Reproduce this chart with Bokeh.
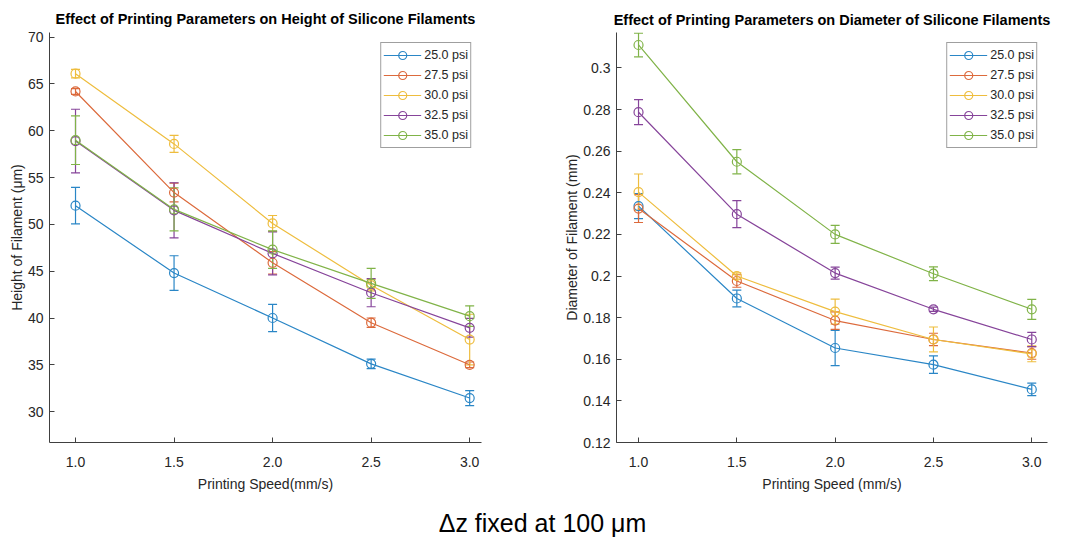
from bokeh.plotting import figure
from bokeh.models import ColumnDataSource, Whisker, TeeHead, Legend, LegendItem, FixedTicker, Label, Range1d
from bokeh.layouts import column, row
from bokeh.embed import file_html
from bokeh.resources import INLINE

speeds = [1.0, 1.5, 2.0, 2.5, 3.0]
speed_tick_labels = ["1.0", "1.5", "2.0", "2.5", "3.0"]
pressure_labels = ["25.0 psi", "27.5 psi", "30.0 psi", "32.5 psi", "35.0 psi"]
colors = ["#2a86c6", "#dc6a3c", "#eebd3e", "#86449a", "#80b348"]

# Height of filament (um)
height_25 = [52.0, 44.8, 40.0, 35.1, 31.45]
height_25_err = [1.95, 1.85, 1.45, 0.5, 0.8]
height_275 = [64.2, 53.4, 45.9, 39.5, 35.0]
height_275_err = [0.3, 1.0, 1.2, 0.5, 0.3]
height_30 = [66.1, 58.6, 50.1, 43.5, 37.7]
height_30_err = [0.45, 0.9, 0.85, 0.6, 2.7]
height_325 = [58.9, 51.5, 46.9, 42.7, 38.95]
height_325_err = [3.4, 2.95, 2.3, 1.5, 1.0]
height_35 = [59.0, 51.6, 47.3, 43.7, 40.2]
height_35_err = [2.6, 2.3, 2.0, 1.6, 1.1]

# Diameter of filament (mm)
diam_25 = [0.2336, 0.1892, 0.1654, 0.1574, 0.1455]
diam_25_err = [0.006, 0.004, 0.0085, 0.0042, 0.003]
diam_275 = [0.2324, 0.1976, 0.1786, 0.1695, 0.163]
diam_275_err = [0.0067, 0.003, 0.0042, 0.003, 0.003]
diam_30 = [0.2403, 0.2000, 0.1829, 0.1695, 0.1626]
diam_30_err = [0.0087, 0.0015, 0.006, 0.006, 0.0038]
diam_325 = [0.2787, 0.2297, 0.2014, 0.1840, 0.1695]
diam_325_err = [0.006, 0.0065, 0.0029, 0.001, 0.0034]
diam_35 = [0.3110, 0.2549, 0.2200, 0.2011, 0.1840]
diam_35_err = [0.0057, 0.0058, 0.0043, 0.0033, 0.0048]

height_y_ticks = [30, 35, 40, 45, 50, 55, 60, 65, 70]
diam_y_ticks = [0.12, 0.14, 0.16, 0.18, 0.2, 0.22, 0.24, 0.26, 0.28, 0.3]
diam_y_tick_labels = ["0.12", "0.14", "0.16", "0.18", "0.2", "0.22", "0.24", "0.26", "0.28", "0.3"]

FONT = "Liberation Sans"
AXC = "#404040"
TXC = "#262626"


def make_plot(title, xlabel, ylabel, series, errors, xr, yr, yticks, ytick_labels,
              width, border_left, border_right, border_top, border_bottom):
    p = figure(width=width, height=506, x_range=Range1d(*xr), y_range=Range1d(*yr),
               output_backend="svg", toolbar_location=None,
               min_border_left=border_left, min_border_right=border_right,
               min_border_top=border_top, min_border_bottom=border_bottom)
    p.outline_line_color = None
    p.grid.visible = False
    p.title.text = title
    p.title.align = "center"
    p.title.text_font = FONT
    p.title.text_font_size = "14.5px"
    p.title.text_font_style = "bold"
    p.title.text_color = "#000000"
    p.title.standoff = 12 - (32 - border_top)

    p.xaxis.ticker = FixedTicker(ticks=speeds)
    p.xaxis.major_label_overrides = {s: l for s, l in zip(speeds, speed_tick_labels)}
    p.yaxis.ticker = FixedTicker(ticks=yticks)
    if ytick_labels is not None:
        p.yaxis.major_label_overrides = {t: l for t, l in zip(yticks, ytick_labels)}
    p.xaxis.axis_label = xlabel
    p.yaxis.axis_label = ylabel
    for ax in (p.xaxis[0], p.yaxis[0]):
        ax.axis_line_color = AXC
        ax.major_tick_line_color = AXC
        ax.major_tick_in = 5
        ax.major_tick_out = 0
        ax.minor_tick_line_color = None
        ax.major_label_text_font = FONT
        ax.major_label_text_font_size = "14px"
        ax.major_label_text_color = TXC
        ax.axis_label_text_font = FONT
        ax.axis_label_text_font_size = "14px"
        ax.axis_label_text_font_style = "normal"
        ax.axis_label_text_color = TXC
    p.xaxis.major_label_standoff = 14
    p.xaxis.axis_label_standoff = 6
    p.yaxis.major_label_standoff = 6
    p.yaxis.axis_label_standoff = 0

    items = []
    for vals, errs, c, lab in zip(series, errors, colors, pressure_labels):
        src = ColumnDataSource(dict(x=speeds, y=vals,
                                    lower=[v - e for v, e in zip(vals, errs)],
                                    upper=[v + e for v, e in zip(vals, errs)]))
        w = Whisker(source=src, base="x", lower="lower", upper="upper",
                    line_color=c, line_width=1.2,
                    lower_head=TeeHead(size=9, line_color=c, line_width=1.2),
                    upper_head=TeeHead(size=9, line_color=c, line_width=1.2))
        p.add_layout(w)
        lr = p.line("x", "y", source=src, line_color=c, line_width=1.2)
        sr = p.scatter("x", "y", source=src, marker="circle", size=9,
                       line_color=c, fill_color=None, line_width=1.2)
        items.append(LegendItem(label=lab, renderers=[lr, sr]))
    leg = Legend(items=items, location="top_right")
    leg.label_text_font = FONT
    leg.label_text_font_size = "12.5px"
    leg.label_text_color = TXC
    leg.border_line_color = AXC
    leg.border_line_width = 1.2
    leg.padding = 2
    leg.spacing = 0
    leg.margin = 10
    leg.glyph_width = 38
    leg.glyph_height = 20
    leg.label_height = 20
    leg.label_standoff = 3
    p.add_layout(leg)
    return p


p1 = make_plot("Effect of Printing Parameters on Height of Silicone Filaments",
               "Printing Speed(mm/s)", "Height of Filament (\u03bcm)",
               [height_25, height_275, height_30, height_325, height_35],
               [height_25_err, height_275_err, height_30_err, height_325_err, height_35_err],
               (0.868, 3.06), (26.7, 70.5), height_y_ticks, None, 535, 49, 54, 32, 62)

p2 = make_plot("Effect of Printing Parameters on Diameter of Silicone Filaments",
               "Printing Speed (mm/s)", "Diameter of Filament (mm)",
               [diam_25, diam_275, diam_30, diam_325, diam_35],
               [diam_25_err, diam_275_err, diam_30_err, diam_325_err, diam_35_err],
               (0.888, 3.08), (0.12, 0.317), diam_y_ticks, diam_y_tick_labels, 533, 81, 21, 30, 64)

p3 = figure(width=1068, height=34, x_range=Range1d(0, 1068), y_range=Range1d(0, 34),
            output_backend="svg", toolbar_location=None, min_border=0)
p3.axis.visible = False
p3.grid.visible = False
p3.outline_line_color = None
p3.add_layout(Label(x=542, y=18, text="\u0394z fixed at 100 \u03bcm", text_font=FONT,
                    text_font_size="25px", text_color="#000000",
                    text_align="center", text_baseline="middle"))

layout = column(row(p1, p2), p3)
open("out.html", "w").write(file_html(layout, INLINE))
